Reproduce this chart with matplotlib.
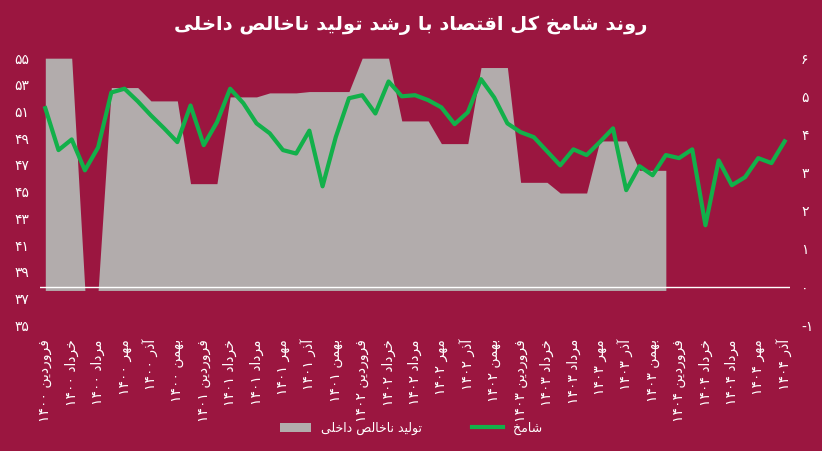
import matplotlib
matplotlib.use("Agg")
import matplotlib.pyplot as plt
import numpy as np

# ---------- simple Persian shaping ----------
FORMS = {
    'ا': (0xFE8D, 0xFE8E), 'آ': (0xFE81, 0xFE82), 'د': (0xFEA9, 0xFEAA), 'ذ': (0xFEAB, 0xFEAC),
    'ر': (0xFEAD, 0xFEAE), 'ز': (0xFEAF, 0xFEB0), 'و': (0xFEED, 0xFEEE),
    'ب': (0xFE8F, 0xFE90, 0xFE91, 0xFE92), 'پ': (0xFB56, 0xFB57, 0xFB58, 0xFB59),
    'ت': (0xFE95, 0xFE96, 0xFE97, 0xFE98), 'ح': (0xFEA1, 0xFEA2, 0xFEA3, 0xFEA4),
    'خ': (0xFEA5, 0xFEA6, 0xFEA7, 0xFEA8), 'س': (0xFEB1, 0xFEB2, 0xFEB3, 0xFEB4),
    'ش': (0xFEB5, 0xFEB6, 0xFEB7, 0xFEB8), 'ص': (0xFEB9, 0xFEBA, 0xFEBB, 0xFEBC),
    'ط': (0xFEC1, 0xFEC2, 0xFEC3, 0xFEC4), 'ف': (0xFED1, 0xFED2, 0xFED3, 0xFED4),
    'ق': (0xFED5, 0xFED6, 0xFED7, 0xFED8), 'ک': (0xFB8E, 0xFB8F, 0xFB90, 0xFB91),
    'ل': (0xFEDD, 0xFEDE, 0xFEDF, 0xFEE0), 'م': (0xFEE1, 0xFEE2, 0xFEE3, 0xFEE4),
    'ن': (0xFEE5, 0xFEE6, 0xFEE7, 0xFEE8), 'ه': (0xFEE9, 0xFEEA, 0xFEEB, 0xFEEC),
    'ی': (0xFBFC, 0xFBFD, 0xFBFE, 0xFBFF),
}

def shape_word(w):
    out = []
    n = len(w)
    for i, c in enumerate(w):
        f = FORMS.get(c)
        if f is None:
            out.append(c); continue
        prev_joins = i > 0 and w[i-1] in FORMS and len(FORMS[w[i-1]]) == 4
        next_joins = i < n - 1 and w[i+1] in FORMS and len(f) == 4
        if prev_joins and next_joins:
            g = f[3]
        elif prev_joins:
            g = f[1]
        elif next_joins:
            g = f[2]
        else:
            g = f[0]
        out.append(chr(g))
    return ''.join(reversed(out))

def fa(s):
    words = s.split(' ')
    res = []
    for w in words:
        if any(c in FORMS for c in w):
            res.append(shape_word(w))
        else:
            res.append(w)
    return ' '.join(reversed(res))

DIG = str.maketrans('0123456789', '۰۱۲۳۴۵۶۷۸۹')
def fd(x):
    return str(x).translate(DIG)

# ---------- data ----------
months = ['فروردین', 'خرداد', 'مرداد', 'مهر', 'آذر', 'بهمن']
years = ['1400', '1401', '1402', '1403', '1404']
tick_labels = []
for y in years:
    for m in months:
        if y == '1404' and m == 'بهمن':
            continue
        tick_labels.append(m + ' ' + fd(y))

shamekh = [4.69, 3.59, 3.87, 3.06, 3.66, 5.1, 5.2, 4.87, 4.5, 4.16, 3.8, 4.76, 3.72, 4.32,
           5.2, 4.82, 4.29, 4.03, 3.59, 3.5, 4.1, 2.64, 3.93, 4.95, 5.03, 4.55, 5.39, 5.0,
           5.03, 4.9, 4.71, 4.27, 4.58, 5.45, 4.97, 4.29, 4.06, 3.93, 3.56, 3.19, 3.61, 3.46,
           3.8, 4.16, 2.54, 3.17, 2.93, 3.46, 3.38, 3.61, 1.62, 3.32, 2.67, 2.88, 3.38, 3.25, 3.82]

gdp = [55, 55, 55, 37.6, 37.6, 52.8, 52.8, 52.8, 51.8, 51.8, 51.8, 45.6, 45.6, 45.6,
       52.1, 52.1, 52.1, 52.4, 52.4, 52.4, 52.5, 52.5, 52.5, 52.5, 55, 55, 55,
       50.3, 50.3, 50.3, 48.6, 48.6, 48.6, 54.3, 54.3, 54.3, 45.7, 45.7, 45.7,
       44.9, 44.9, 44.9, 48.8, 48.8, 48.8, 46.6, 46.6, 46.6]

BG = '#9B1640'
GRAY = '#B2ACAC'
GREEN = '#12B04A'

fig = plt.figure(figsize=(8.22, 4.51), dpi=100, facecolor=BG)
ax = fig.add_axes([0.049, 0.279, 0.912, 0.592])
ax.set_facecolor(BG)
ax2 = ax.twinx()

xg = np.arange(len(gdp))
ax.fill_between(xg, gdp, 37.6, color=GRAY, lw=0, label=fa('تولید ناخالص داخلی'))
ax.set_ylim(35, 55)
ax.set_yticks(range(35, 56, 2))
ax.set_yticklabels([fd(v) for v in range(35, 56, 2)])

xs = np.arange(len(shamekh))
ax2.plot(xs, shamekh, color=GREEN, lw=3, label=fa('شامخ'))
ax2.axhline(0, color='white', lw=1)
ax2.set_ylim(-1, 6)
ax2.set_yticks(range(-1, 7))
ax2.set_yticklabels([fd(v) for v in range(-1, 7)])

ax.set_xlim(-0.38, 56.4)
ax.set_xticks(np.arange(0, 57, 2))
ax.set_xticklabels([fa(t) for t in tick_labels], rotation=90, fontsize=9, color='white')

for a in (ax, ax2):
    for s in a.spines.values():
        s.set_visible(False)
    a.tick_params(length=0, colors='white', labelsize=10)
ax.tick_params(axis='y', pad=8)
ax2.tick_params(axis='y', pad=8)
ax.tick_params(axis='x', pad=10)

fig.text(0.5, 0.945, fa('روند شامخ کل اقتصاد با رشد تولید ناخالص داخلی'),
         ha='center', va='center', color='white', fontsize=14, fontweight='bold')

h1, l1 = ax.get_legend_handles_labels()
h2, l2 = ax2.get_legend_handles_labels()
fig.legend(h1 + h2, l1 + l2, loc='center', bbox_to_anchor=(0.5, 0.05), ncol=2,
           frameon=False, labelcolor='white', fontsize=9, handlelength=2.5, columnspacing=4)

fig.savefig('out.png', dpi=100, facecolor=BG)
